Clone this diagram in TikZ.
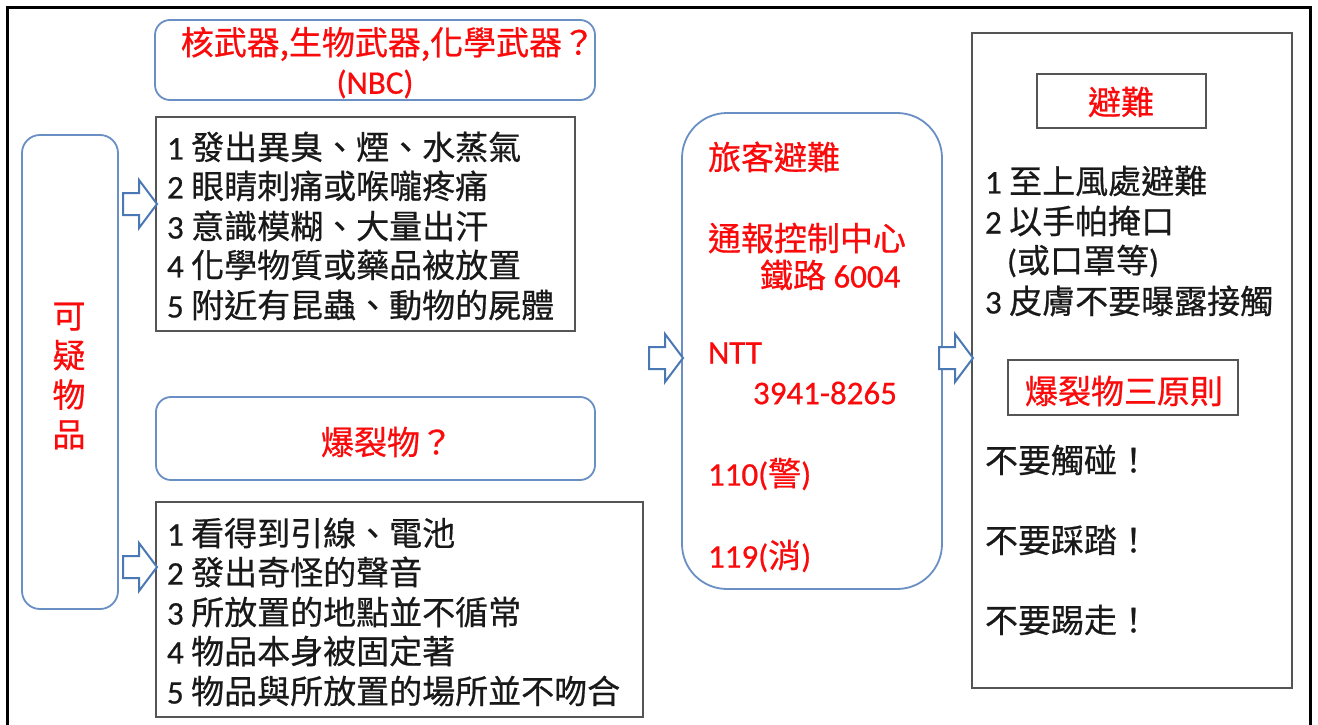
\documentclass[tikz,border=0pt]{standalone}
\usepackage{fontspec}
\setmainfont[FakeBold=0.6]{Carlito}
\newfontfamily\cjk[FakeBold=0.6]{Noto Sans CJK TC}
\usetikzlibrary{fit}
\definecolor{bxblue}{RGB}{105,143,196}
\definecolor{arblue}{RGB}{74,120,180}
\definecolor{bxgray}{RGB}{85,85,85}
\definecolor{txred}{RGB}{250,10,10}
\definecolor{txblack}{RGB}{25,25,25}
\newcommand\blockarrow[1]{\draw[barrow] (#1) -- ++(-18,-24) -- ++(0,13) -- ++(-16,0) -- ++(0,22) -- ++(16,0) -- ++(0,13) -- cycle;}
\begin{document}
\begin{tikzpicture}[x=1pt,y=-1pt,
  every node/.style={inner sep=0pt, outer sep=0pt},
  graybox/.style={draw=bxgray, line width=2.2pt},
  bluebox/.style={draw=bxblue, line width=1.8pt},
  barrow/.style={draw=arblue, fill=white, line width=2pt, line join=miter},
  blk/.style={anchor=west, text=txblack, font=\fontsize{33}{39.5}\selectfont},
  red/.style={anchor=west, text=txred, font=\fontsize{33}{39.5}\selectfont},
  redc/.style={text=txred, font=\fontsize{33}{39.5}\selectfont, align=center},
]
\useasboundingbox (0,0) rectangle (1318,725);
\fill[white] (0,0) rectangle (1318,725);
% outer frame
\draw[line width=3pt] (7,728) -- (7,8) -- (1310,8) -- (1310,728);

% boxes
\node[bluebox, rounded corners=18pt, fit={(22,135) (118,609)}] (susp) {};
\node[bluebox, rounded corners=15pt, fit={(155,20) (595,100)}] (nbc) {};
\node[graybox, fit={(156,117) (575,331)}] (list1) {};
\node[bluebox, rounded corners=15pt, fit={(156,397) (595,480)}] (expq) {};
\node[graybox, fit={(156,502) (643,717)}] (list2) {};
\node[bluebox, rounded corners=45pt, fit={(682,113) (942,589)}] (act) {};
\node[graybox, fit={(972,33) (1292,688)}] (right) {};
\node[graybox, fit={(1037,74) (1206,128)}] (evac) {};
\node[graybox, fit={(1008,360) (1238,415)}] (rules) {};

% arrows (tips on the target boxes)
\coordinate (t1) at (157,204);
\coordinate (t2) at (157,567);
\coordinate (t3) at (683,358);
\coordinate (t4) at (973,358);
\blockarrow{t1}
\blockarrow{t2}
\blockarrow{t3}
\blockarrow{t4}

% left
\node[redc, font=\fontsize{33}{39.5}\selectfont\cjk] (suspt) at (69,376) {可\\疑\\物\\品};

% top box
\node[redc] (nbc1) at (388,44) {\cjk 核武器,生物武器,化學武器？};
\node[redc] (nbc2) at (375,84) {(NBC)};

% list 1
\node[blk] (l11) at (167,147) {1 {\cjk 發出異臭、煙、水蒸氣}};
\node[blk] (l12) at (167,186) {2 {\cjk 眼睛刺痛或喉嚨疼痛}};
\node[blk] (l13) at (167,226) {3 {\cjk 意識模糊、大量出汗}};
\node[blk] (l14) at (167,265) {4 {\cjk 化學物質或藥品被放置}};
\node[blk] (l15) at (167,305) {5 {\cjk 附近有昆蟲、動物的屍體}};

% explosive box
\node[redc] (expt) at (387,442) {\cjk 爆裂物？};

% list 2
\node[blk] (l21) at (167,533) {1 {\cjk 看得到引線、電池}};
\node[blk] (l22) at (167,572) {2 {\cjk 發出奇怪的聲音}};
\node[blk] (l23) at (167,612) {3 {\cjk 所放置的地點並不循常}};
\node[blk] (l24) at (167,651) {4 {\cjk 物品本身被固定著}};
\node[blk] (l25) at (167,691) {5 {\cjk 物品與所放置的場所並不吻合}};

% middle
\node[red] (m1) at (708,157) {\cjk 旅客避難};
\node[red] (m2) at (708,238) {\cjk 通報控制中心};
\node[red] (m3) at (760,275) {{\cjk 鐵路} 6004};
\node[red] (m4) at (708,353) {NTT};
\node[red] (m5) at (753,393) {3941-8265};
\node[red] (m6) at (708,474) {110({\cjk 警})};
\node[red] (m7) at (708,556) {119({\cjk 消})};

% right
\node[redc] (evt) at (1121,102) {\cjk 避難};
\node[blk] (r1) at (985,181) {1 {\cjk 至上風處避難}};
\node[blk] (r2) at (985,221) {2 {\cjk 以手帕掩口}};
\node[blk] (r3) at (1007,261) {({\cjk 或口罩等})};
\node[blk] (r4) at (985,301) {3 {\cjk 皮膚不要曝露接觸}};
\node[redc] (rut) at (1124,391) {\cjk 爆裂物三原則};
\node[blk] (n1) at (985,460) {\cjk 不要觸碰！};
\node[blk] (n2) at (985,540) {\cjk 不要踩踏！};
\node[blk] (n3) at (985,620) {\cjk 不要踢走！};
\end{tikzpicture}
\end{document}
